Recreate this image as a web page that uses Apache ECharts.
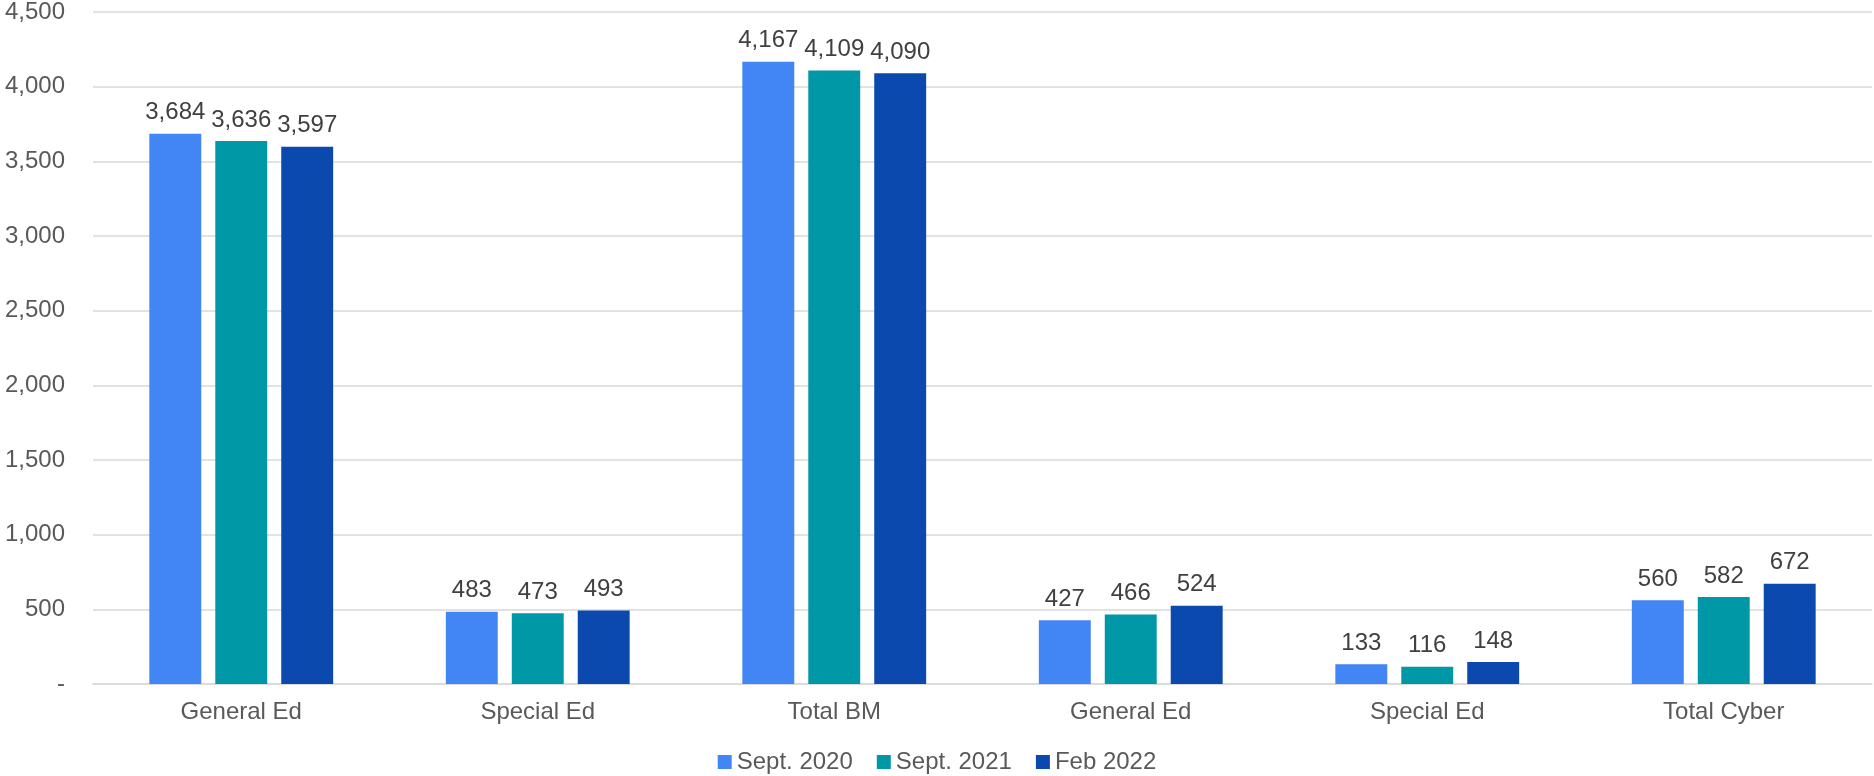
<!DOCTYPE html>
<html>
<head>
<meta charset="utf-8">
<script src="https://cdn.jsdelivr.net/npm/echarts@6/dist/echarts.min.js"></script>
<style>
	html, body { margin: 0; padding: 0; background: #fff; }
	#chart { width: 1874px; height: 776px; }
</style>
</head>
<body>
<div id="chart"></div>
<script>
var categories = ['General Ed', 'Special Ed', 'Total BM', 'General Ed', 'Special Ed', 'Total Cyber'];
var sept2020 = [3684, 483, 4167, 427, 133, 560];
var sept2021 = [3636, 473, 4109, 466, 116, 582];
var feb2022 = [3597, 493, 4090, 524, 148, 672];
var seriesNames = ['Sept. 2020', 'Sept. 2021', 'Feb 2022'];
var colors = ['#4285F4', '#0097A7', '#0B49AF'];

var font = 'Liberation Sans, Arial, sans-serif';
var myChart = echarts.init(document.getElementById('chart'));

function fmt(v) {
	if (v === 0) return '-';
	return v.toLocaleString('en-US');
}

function makeSeries(name, data, color) {
	return {
		name: name,
		type: 'bar',
		data: data,
		barGap: '27%',
		barCategoryGap: '38%',
		itemStyle: { color: color },
		label: {
			show: true,
			position: 'top',
			distance: 9,
			color: '#404040',
			fontSize: 24,
			fontFamily: font,
			formatter: function (p) { return fmt(p.value); }
		}
	};
}

var option = {
	animation: false,
	color: colors,
	grid: { left: 93, right: 2, top: 12, bottom: 92 },
	legend: {
		bottom: -3,
		left: 'center',
		itemWidth: 14,
		itemHeight: 14,
		itemGap: 24,
		icon: 'rect',
		textStyle: { color: '#595959', fontSize: 24, fontFamily: font },
		data: seriesNames
	},
	xAxis: {
		type: 'category',
		data: categories,
		axisLine: { lineStyle: { color: '#d9d9d9', width: 1.5 } },
		axisTick: { show: false },
		axisLabel: { color: '#595959', fontSize: 24, fontFamily: font, margin: 16 }
	},
	yAxis: {
		type: 'value',
		min: 0,
		max: 4500,
		interval: 500,
		axisLine: { show: false },
		axisTick: { show: false },
		splitLine: { lineStyle: { color: '#d9d9d9', width: 1.5 } },
		axisLabel: {
			color: '#595959', fontSize: 24, fontFamily: font, margin: 28,
			formatter: fmt
		}
	},
	series: [
		makeSeries(seriesNames[0], sept2020, colors[0]),
		makeSeries(seriesNames[1], sept2021, colors[1]),
		makeSeries(seriesNames[2], feb2022, colors[2])
	]
};
myChart.setOption(option);
</script>
</body>
</html>
